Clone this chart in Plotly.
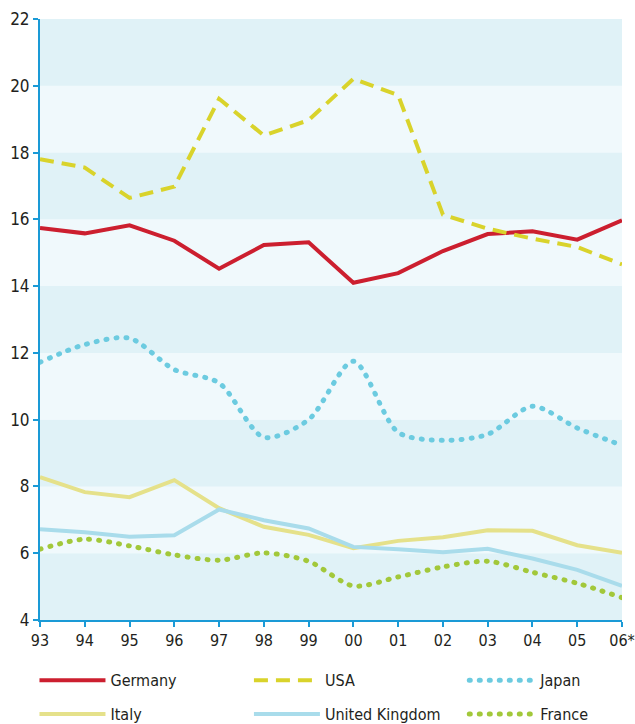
import plotly.graph_objects as go

years = ["93", "94", "95", "96", "97", "98", "99", "00", "01", "02", "03", "04", "05", "06*"]
germany = [15.74, 15.58, 15.82, 15.36, 14.52, 15.23, 15.31, 14.10, 14.39, 15.05, 15.56, 15.64, 15.39, 15.97]
usa = [17.80, 17.55, 16.64, 16.98, 19.61, 18.51, 18.97, 20.21, 19.72, 16.14, 15.72, 15.42, 15.17, 14.65]
japan = [11.72, 12.25, 12.44, 11.50, 11.10, 9.47, 10.00, 11.75, 9.62, 9.38, 9.56, 10.40, 9.75, 9.23]
italy = [8.28, 7.83, 7.68, 8.19, 7.35, 6.79, 6.55, 6.15, 6.37, 6.48, 6.69, 6.67, 6.24, 6.01]
uk = [6.72, 6.63, 6.49, 6.54, 7.31, 6.99, 6.74, 6.19, 6.12, 6.03, 6.13, 5.84, 5.50, 5.02]
france = [6.12, 6.42, 6.22, 5.95, 5.79, 6.01, 5.76, 5.02, 5.29, 5.59, 5.76, 5.43, 5.10, 4.67]
y_ticks = [4, 6, 8, 10, 12, 14, 16, 18, 20, 22]

FONT = "DejaVu Sans Condensed, Liberation Sans Narrow, Roboto, sans-serif"
AXIS = "#1a9ad6"
DARK_BAND = "#e0f2f7"
LIGHT_BAND = "#f0f9fc"

series = [
    ("Germany", germany, dict(color="#cc1f2f", width=4), "linear", "legend"),
    ("USA", usa, dict(color="#d9d32b", width=4, dash="14px,8px"), "linear", "legend2"),
    ("Japan", japan, dict(color="#6ccbe0", width=5, dash="1px,9px"), "spline", "legend3"),
    ("Italy", italy, dict(color="#e5e18a", width=4), "linear", "legend"),
    ("United Kingdom", uk, dict(color="#a9dceb", width=4), "linear", "legend2"),
    ("France", france, dict(color="#a2c83a", width=5, dash="1px,9px"), "spline", "legend3"),
]

fig = go.Figure()
for i, (name, vals, line, shape, leg) in enumerate(series):
    ln = dict(line)
    ln["shape"] = shape
    if shape == "spline":
        ln["smoothing"] = 0.8
    fig.add_trace(go.Scatter(x=years, y=vals, name=name, mode="lines", line=ln,
                             legend=leg, legendgroup=name, hoverinfo="skip"))

# background bands
for k in range(len(y_ticks) - 1):
    fig.add_shape(type="rect", xref="paper", yref="y", x0=0, x1=1,
                  y0=y_ticks[k], y1=y_ticks[k + 1],
                  fillcolor=DARK_BAND if k % 2 == 0 else LIGHT_BAND,
                  line_width=0, layer="below")

legend_common = dict(
    orientation="v", xanchor="left", yanchor="top", y=-0.072,
    font=dict(family=FONT, size=16, color="#231f20"),
    bgcolor="rgba(0,0,0,0)", itemwidth=66, tracegroupgap=10,
    itemclick=False, itemdoubleclick=False,
)

fig.update_layout(
    width=635, height=724,
    margin=dict(l=40, r=13, t=19, b=104, autoexpand=False),
    paper_bgcolor="white", plot_bgcolor=LIGHT_BAND,
    showlegend=True,
    font=dict(family=FONT, size=16, color="#231f20"),
    xaxis=dict(type="category", range=[0, 13], showgrid=False, zeroline=False,
               automargin=False,
               showline=True, linecolor=AXIS, linewidth=2,
               ticks="outside", ticklen=5, tickcolor=AXIS, tickwidth=2,
               tickfont=dict(family=FONT, size=16, color="#231f20")),
    yaxis=dict(range=[4, 22], tickvals=y_ticks, showgrid=False, zeroline=False,
               automargin=False,
               showline=True, linecolor=AXIS, linewidth=2,
               ticks="outside", ticklen=5, tickcolor=AXIS, tickwidth=2,
               tickfont=dict(family=FONT, size=17, color="#231f20")),
    legend=dict(legend_common, x=-0.0095),
    legend2=dict(legend_common, x=0.359),
    legend3=dict(legend_common, x=0.729),
)

post = """
var s=document.createElement('style');
s.textContent='body{margin:0;overflow:hidden} path.js-line[style*="1px, 9px"]{stroke-linecap:round}';
document.head.appendChild(s);
"""
fig.write_html("out.html", post_script=post, config={"displayModeBar": False})
